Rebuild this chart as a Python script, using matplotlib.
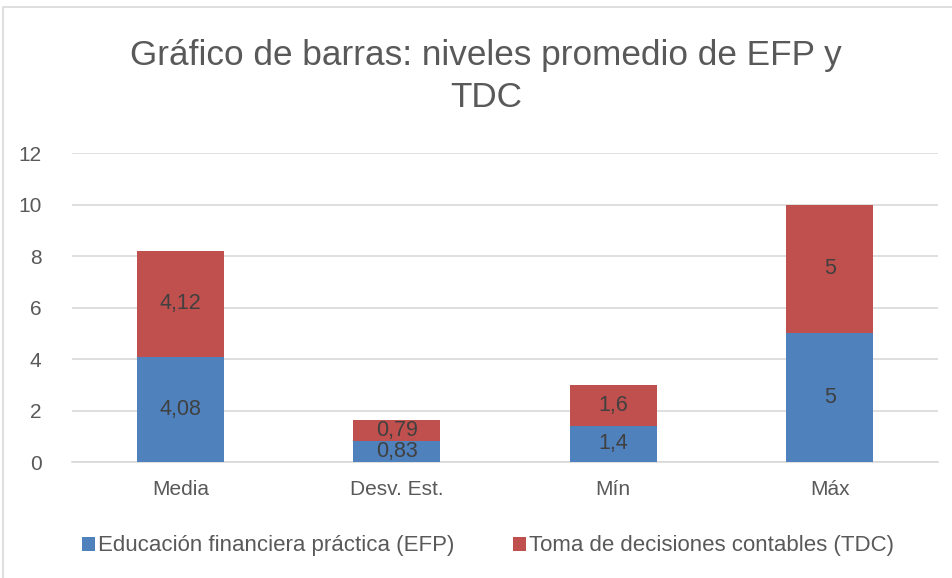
import numpy as np
import matplotlib.pyplot as plt
from matplotlib import font_manager
from matplotlib.patches import Rectangle

# Data
categories = ['Media', 'Desv. Est.', 'Mín', 'Máx']
efp = [4.08, 0.83, 1.4, 5]
tdc = [4.12, 0.79, 1.6, 5]
efp_labels = ['4,08', '0,83', '1,4', '5']
tdc_labels = ['4,12', '0,79', '1,6', '5']
series_names = ['Educación financiera práctica (EFP)', 'Toma de decisiones contables (TDC)']

names = {f.name for f in font_manager.fontManager.ttflist}
fam = 'Liberation Sans Narrow' if 'Liberation Sans Narrow' in names else 'Liberation Sans'
plt.rcParams['font.family'] = [fam, 'DejaVu Sans']

blue = '#4F81BD'
red = '#C0504D'
grey_txt = '#595959'

fig = plt.figure(figsize=(9.53, 5.78), dpi=100)
# chart border
fig.patches.append(Rectangle((3 / 953, -0.01), 1.0, 1 - 7 / 578 + 0.01, transform=fig.transFigure,
                             fill=False, edgecolor='#D9D9D9', lw=1.2))

ax = fig.add_axes([72 / 953, 1 - 462 / 578, 866 / 953, 309 / 578])
x = np.arange(len(categories))
w = 0.4
b1 = ax.bar(x, efp, w, color=blue, label=series_names[0], zorder=3)
b2 = ax.bar(x, tdc, w, bottom=efp, color=red, label=series_names[1], zorder=3)

for i in range(len(categories)):
    ax.text(x[i], efp[i] / 2, efp_labels[i], ha='center', va='center', fontsize=15.5, color='#404040', zorder=4)
    ax.text(x[i], efp[i] + tdc[i] / 2, tdc_labels[i], ha='center', va='center', fontsize=15.5, color='#404040', zorder=4)

ax.set_xlim(-0.5, 3.5)
ax.set_ylim(0, 12)
ax.set_yticks(np.arange(0, 13, 2))
ax.set_xticks(x)
ax.set_xticklabels(categories)
ax.yaxis.grid(True, color='#D9D9D9', lw=1.2, zorder=0)
for s in ['top', 'right', 'left']:
    ax.spines[s].set_visible(False)
ax.spines['bottom'].set_color('#D9D9D9')
ax.spines['bottom'].set_linewidth(1.2)
ax.tick_params(axis='both', length=0, labelsize=15, colors=grey_txt)
ax.tick_params(axis='y', pad=22)
ax.tick_params(axis='x', pad=13)

fig.text(486 / 953, 1 - 55 / 578, 'Gráfico de barras: niveles promedio de EFP y', ha='center', va='center',
         fontsize=25.3, color=grey_txt)
fig.text(486 / 953, 1 - 98 / 578, 'TDC', ha='center', va='center', fontsize=25.3, color=grey_txt)

fig.legend(handles=[b1, b2], loc='center', bbox_to_anchor=(0.512, 1 - 546 / 578), ncol=2, frameon=False,
           fontsize=16, labelcolor=grey_txt, handlelength=0.6, handleheight=0.6, handletextpad=0.15,
           columnspacing=2.6)

fig.savefig('out.png', dpi=100, facecolor='white')
